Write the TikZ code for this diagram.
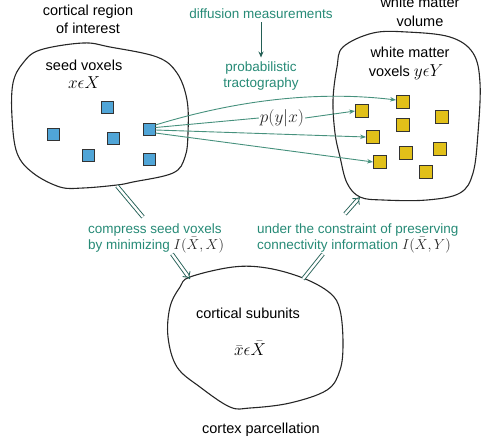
\documentclass[tikz,border=0pt]{standalone}
\usepackage{fontspec}
\setmainfont{Liberation Sans}
\usetikzlibrary{arrows.meta}
\definecolor{tealtxt}{RGB}{38,138,118}
\definecolor{tealline}{RGB}{70,145,125}
\definecolor{tealdark}{RGB}{35,95,85}
\definecolor{voxblue}{RGB}{80,165,215}
\definecolor{voxyellow}{RGB}{225,192,25}
\newcommand{\infoterm}[1]{{\color{black!85}\fontsize{15}{17}\selectfont$#1$}}
\tikzset{
  blob/.style={draw=black!85, line width=1.1pt},
  lbl/.style={font=\fontsize{14.5}{18}\selectfont, align=center, inner sep=0pt},
  glbl/.style={font=\fontsize{13.5}{15.5}\selectfont, text=tealtxt, inner sep=0pt},
  mth/.style={font=\fontsize{17}{20}\selectfont, inner sep=0pt},
  bvox/.style={draw=black!80, line width=0.8pt, fill=voxblue, minimum size=12pt, inner sep=0pt},
  yvox/.style={draw=black!80, line width=0.8pt, fill=voxyellow, minimum size=13pt, inner sep=0pt},
  tract/.style={draw=tealline, line width=0.9pt, -{Stealth[length=6pt,width=4.5pt]}},
  dbl/.style={draw=tealdark, double=white, double distance=2.4pt, line width=0.9pt},
}
\begin{document}
\begin{tikzpicture}[x=1pt,y=-1pt]
\useasboundingbox (0,0) rectangle (482,445);

% region outlines
\draw[blob] plot[smooth cycle, tension=0.6] coordinates {
  (40,50) (83,43) (110,47) (157,57) (177,73) (187,100) (188,133) (185,157)
  (173,173) (133,182) (117,185) (83,188) (60,187) (33,173) (17,153) (12,117)
  (13,83) (23,63)};
\draw[blob] plot[smooth cycle, tension=0.6] coordinates {
  (343,47) (373,33) (407,32) (450,37) (473,53) (480,83) (478,133) (473,173)
  (460,193) (427,200) (383,200) (360,197) (347,183) (340,157) (335,133)
  (333,100) (337,67)};
\draw[blob] plot[smooth cycle, tension=0.6] coordinates {
  (190,277) (233,267) (267,268) (303,278) (330,293) (340,310) (343,343)
  (340,370) (327,390) (290,403) (250,408) (230,407) (200,387) (177,367)
  (168,337) (170,307) (180,287)};

% titles (base anchor sits on the last line)
\node[lbl, anchor=base] (roi) at (88,33) {cortical region\\of interest};
\node[lbl, anchor=base, font=\fontsize{14.5}{19}\selectfont] (wmv) at (420,26) {white matter\\volume};
\node[lbl, anchor=base] (parc) at (261,433) {cortex parcellation};

% labels inside the regions
\node[lbl, anchor=base] (seed) at (84,70) {seed voxels};
\node[mth, anchor=base] (seedset) at (84,88) {$x\epsilon X$};
\node[lbl, anchor=base] (wmvox) at (410,57) {white matter};
\node[lbl, anchor=base] (wmset) at (406,76) {voxels {\fontsize{16}{18}\selectfont$y\epsilon Y$}};
\node[lbl, anchor=base] (sub) at (248,318) {cortical subunits};
\node[mth, anchor=base] (subset) at (250,355) {$\bar{x}\epsilon\bar{X}$};

% seed voxels
\node[bvox] (b1) at (107,107) {};
\node[bvox] (b2) at (53,134) {};
\node[bvox] (b3) at (113,138) {};
\node[bvox] (b4) at (88,155) {};
\node[bvox] (b5) at (149,129) {};
\node[bvox] (b6) at (149,159) {};

% white matter voxels
\node[yvox] (y1) at (403,102) {};
\node[yvox] (y2) at (362,111) {};
\node[yvox] (y3) at (442,117) {};
\node[yvox] (y4) at (403,125) {};
\node[yvox] (y5) at (373,137) {};
\node[yvox] (y6) at (440,149) {};
\node[yvox] (y7) at (406,153) {};
\node[yvox] (y8) at (380,162) {};
\node[yvox] (y9) at (426,172) {};

% diffusion measurements -> tractography
\node[glbl, anchor=base] (dm) at (261,18) {diffusion measurements};
\node[glbl, anchor=base, align=center] (pt) at (261,87) {probabilistic\\tractography};
\draw[draw=tealdark, line width=1pt, -{Stealth[length=6pt,width=5pt]}] ([yshift=-4pt]dm.south) -- ([yshift=4pt]pt.north);

% connectivity profile of one seed voxel
\node[mth, fill=white, inner sep=1pt, text=black!85] (pyx) at (282,118) {$p(y|x)$};
\draw[tract] ([yshift=4pt]b5.east) .. controls (250,96) and (330,92) .. ([yshift=2pt]y1.west);
\draw[draw=tealline, line width=0.9pt] ([yshift=1.5pt]b5.east) -- (pyx.west);
\draw[tract] (pyx.east) -- (y2.west);
\draw[tract] ([yshift=-1pt]b5.east) -- (y5.west);
\draw[tract] ([yshift=-4pt]b5.east) -- (y8.west);

% compression and constraint
\node[glbl, anchor=base west, align=left] (comp) at (88,249)
  {compress seed voxels\\by minimizing \infoterm{I(\bar{X},X)}};
\node[glbl, anchor=base west, align=left] (cons) at (257,249)
  {under the constraint of preserving\\connectivity information \infoterm{I(\bar{X},Y)}};

\coordinate (lsrc) at (117,186);
\coordinate (lmid1) at (143,217);
\coordinate (lmid2) at (172,254);
\coordinate (ldst) at (190,279);
\coordinate (rsrc) at (303,279);
\coordinate (rmid1) at (323,254);
\coordinate (rmid2) at (345,214);
\coordinate (rdst) at (360,197);

\draw[dbl] (lsrc) -- (lmid1);
\draw[dbl, -{Implies[scale=1.3]}] (lmid2) -- (ldst);
\draw[dbl] (rsrc) -- (rmid1);
\draw[dbl, -{Implies[scale=1.3]}] (rmid2) -- (rdst);
\end{tikzpicture}
\end{document}
